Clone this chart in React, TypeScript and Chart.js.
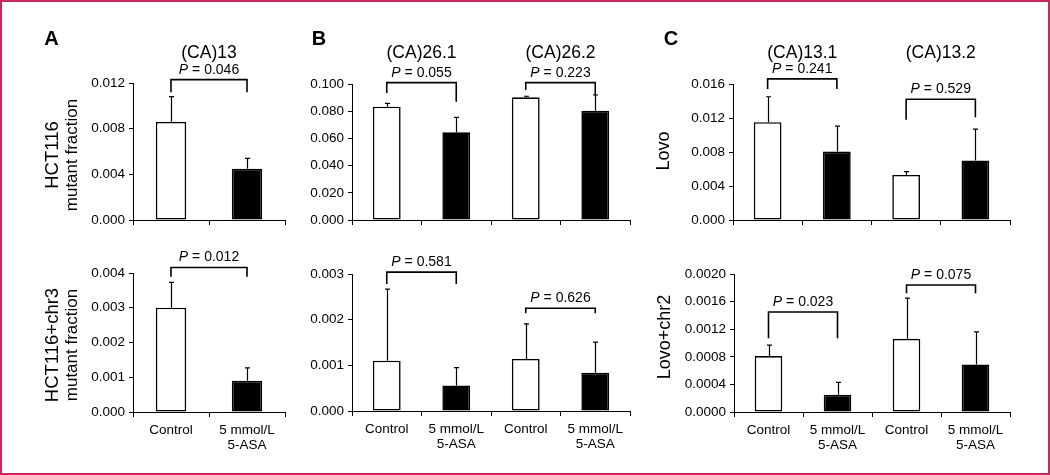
import React, { useEffect, useRef } from "react";
import { Chart, registerables } from "chart.js";

Chart.register(...registerables);

const FONT = '"Liberation Sans", Arial, Helvetica, sans-serif';

// ---------- data ----------
const twoLabels: (string | string[])[] = ["Control", ["5 mmol/L", "5-ASA"]];
const fourLabels: (string | string[])[] = ["Control", ["5 mmol/L", "5-ASA"], "Control", ["5 mmol/L", "5-ASA"]];

const aTopMeans = [0.0086, 0.0045];
const aTopSD = [0.0022, 0.0009];
const aBotMeans = [0.003, 0.0009];
const aBotSD = [0.00073, 0.00037];

const bTopMeans = [0.0833, 0.0645, 0.0902, 0.0804];
const bTopSD = [0.0025, 0.011, 0.0008, 0.0115];
const bBotMeans = [0.0011, 0.00056, 0.00114, 0.00084];
const bBotSD = [0.00157, 0.00039, 0.00077, 0.00067];

const cTopMeans = [0.0115, 0.00805, 0.0053, 0.007];
const cTopSD = [0.003, 0.003, 0.0004, 0.0037];
const cBotMeans = [0.00081, 0.00025, 0.00106, 0.00069];
const cBotSD = [0.00016, 0.00018, 0.00059, 0.00047];

const aTopBrackets = [{ from: 0, to: 1, y: 0.0123, l: 0.0112, r: 0.0112, p: "0.046" }];
const aBotBrackets = [{ from: 0, to: 1, y: 0.00416, l: 0.00389, r: 0.00389, p: "0.012" }];
const bTopBrackets = [
  { from: 0, to: 1, y: 0.101, l: 0.0934, r: 0.087, p: "0.055" },
  { from: 2, to: 3, y: 0.101, l: 0.0956, r: 0.0919, p: "0.223" },
];
const bBotBrackets = [
  { from: 0, to: 1, y: 0.00304, l: 0.00278, r: 0.00278, p: "0.581" },
  { from: 2, to: 3, y: 0.00225, l: 0.00214, r: 0.00214, p: "0.626" },
];
const cTopBrackets = [
  { from: 0, to: 1, y: 0.0166, l: 0.0154, r: 0.0154, p: "0.241" },
  { from: 2, to: 3, y: 0.0142, l: 0.0118, r: 0.0121, p: "0.529" },
];
const cBotBrackets = [
  { from: 0, to: 1, y: 0.00145, l: 0.00107, r: 0.00107, p: "0.023" },
  { from: 2, to: 3, y: 0.00184, l: 0.00172, r: 0.00172, p: "0.075" },
];

const aTitles = ["(CA)13"];
const bTitles = ["(CA)26.1", "(CA)26.2"];
const cTitles = ["(CA)13.1", "(CA)13.2"];

const aTopYLabel = ["HCT116", "mutant fraction"];
const aBotYLabel = ["HCT116+chr3", "mutant fraction"];
const cTopYLabel = ["Lovo"];
const cBotYLabel = ["Lovo+chr2"];

const barColors4 = ["#ffffff", "#000000", "#ffffff", "#000000"];

// ---------- layout ----------
type Bracket = { from: number; to: number; y: number; l: number; r: number; p: string };
type PanelCfg = {
  labels: (string | string[])[];
  showLabels: boolean;
  means: number[];
  sd: number[];
  max: number;
  step: number;
  dec: number;
  brackets: Bracket[];
  titles?: string[];
  yLabel?: string[];
  yLabelX?: number[];
  yLabelSize?: number[];
  yLabelCY?: number;
  letter?: string;
  letterX?: number;
  area: { l: number; r: number; t: number; b: number };
};

const W = 1050;
const H = 475;

function makePlugin(cfg: PanelCfg) {
  return {
    id: "deco",
    afterDatasetsDraw(chart: any) {
      const ctx = chart.ctx as CanvasRenderingContext2D;
      const xs = chart.scales.x;
      const ys = chart.scales.y;
      const meta = chart.getDatasetMeta(0);
      ctx.save();
      ctx.strokeStyle = "#000";
      ctx.fillStyle = "#000";
      // error bars
      ctx.lineWidth = 1.2;
      cfg.means.forEach((m, i) => {
        const bar = meta.data[i];
        const x = Math.round(bar.x) + 0.5;
        const y0 = ys.getPixelForValue(m);
        const y1 = ys.getPixelForValue(m + cfg.sd[i]);
        ctx.beginPath();
        ctx.moveTo(x, y0);
        ctx.lineTo(x, y1);
        ctx.moveTo(x - 2.5, y1);
        ctx.lineTo(x + 2.5, y1);
        ctx.stroke();
      });
      // brackets
      cfg.brackets.forEach((b) => {
        const x0 = xs.getPixelForValue(b.from);
        const x1 = xs.getPixelForValue(b.to);
        const y = ys.getPixelForValue(b.y);
        const yl = ys.getPixelForValue(b.l);
        const yr = ys.getPixelForValue(b.r);
        ctx.lineWidth = 1.6;
        ctx.beginPath();
        ctx.moveTo(x0, yl);
        ctx.lineTo(x0, y);
        ctx.lineTo(x1, y);
        ctx.lineTo(x1, yr);
        ctx.stroke();
        // P text
        const cx = (x0 + x1) / 2;
        ctx.textBaseline = "alphabetic";
        ctx.textAlign = "left";
        ctx.font = `italic 14px ${FONT}`;
        const pw = ctx.measureText("P").width;
        ctx.font = `14px ${FONT}`;
        const rest = " = " + b.p;
        const rw = ctx.measureText(rest).width;
        const sx = cx - (pw + rw) / 2;
        ctx.font = `italic 14px ${FONT}`;
        ctx.fillText("P", sx, y - 6);
        ctx.font = `14px ${FONT}`;
        ctx.fillText(rest, sx + pw, y - 6);
      });
      ctx.restore();
    },
    afterDraw(chart: any) {
      const ctx = chart.ctx as CanvasRenderingContext2D;
      const xs = chart.scales.x;
      ctx.save();
      ctx.fillStyle = "#000";
      // column titles
      if (cfg.titles) {
        ctx.font = `17.5px ${FONT}`;
        ctx.textAlign = "center";
        ctx.textBaseline = "alphabetic";
        cfg.titles.forEach((t, k) => {
          const cx = (xs.getPixelForValue(2 * k) + xs.getPixelForValue(2 * k + 1)) / 2;
          ctx.fillText(t, cx, 57.5);
        });
      }
      // panel letter
      if (cfg.letter) {
        ctx.font = `bold 20px ${FONT}`;
        ctx.textAlign = "center";
        ctx.textBaseline = "alphabetic";
        ctx.fillText(cfg.letter, cfg.letterX as number, 44.5);
      }
      // y axis label
      if (cfg.yLabel) {
        cfg.yLabel.forEach((line, k) => {
          ctx.save();
          ctx.translate((cfg.yLabelX as number[])[k], cfg.yLabelCY as number);
          ctx.rotate(-Math.PI / 2);
          ctx.font = `${(cfg.yLabelSize as number[])[k]}px ${FONT}`;
          ctx.textAlign = "center";
          ctx.textBaseline = "middle";
          ctx.fillText(line, 0, 0);
          ctx.restore();
        });
      }
      ctx.restore();
    },
  };
}

function Panel({ cfg }: { cfg: PanelCfg }) {
  const ref = useRef<HTMLCanvasElement>(null);
  useEffect(() => {
    const canvas = ref.current;
    if (!canvas) return;
    const yW = 60;
    const xH = cfg.showLabels ? 50 : 10;
    const chart = new Chart(canvas, {
      type: "bar",
      data: {
        labels: cfg.labels as any,
        datasets: [
          {
            data: cfg.means,
            backgroundColor: barColors4.slice(0, cfg.means.length),
            borderColor: "#000",
            borderWidth: 1.6,
            borderSkipped: false,
            barPercentage: 0.4,
            categoryPercentage: 1,
          } as any,
        ],
      },
      options: {
        responsive: false,
        animation: false,
        events: [],
        layout: {
          padding: {
            left: cfg.area.l - yW,
            right: W - cfg.area.r,
            top: cfg.area.t,
            bottom: H - cfg.area.b - xH,
          },
        },
        plugins: {
          legend: { display: false },
          tooltip: { enabled: false },
          title: { display: false },
        },
        scales: {
          x: {
            offset: true,
            grid: {
              display: true,
              offset: true,
              drawOnChartArea: false,
              drawTicks: true,
              tickLength: 5,
              color: "#000",
              lineWidth: 1,
            },
            border: { display: true, color: "#000", width: 1 },
            ticks: {
              display: cfg.showLabels,
              color: "#000",
              font: { family: FONT, size: 13.5, lineHeight: 1.11 },
              padding: 6,
              maxRotation: 0,
              autoSkip: false,
            },
            afterFit: (s: any) => {
              s.height = xH;
            },
          },
          y: {
            min: 0,
            max: cfg.max,
            grid: {
              display: true,
              drawOnChartArea: false,
              drawTicks: true,
              tickLength: 4,
              color: "#000",
              lineWidth: 1,
            },
            border: { display: true, color: "#000", width: 1 },
            ticks: {
              stepSize: cfg.step,
              color: "#000",
              font: { family: FONT, size: 13.5 },
              padding: 4,
              callback: (v: any) => Number(v).toFixed(cfg.dec),
            },
            afterFit: (s: any) => {
              s.width = yW;
            },
          },
        },
      } as any,
      plugins: [makePlugin(cfg) as any],
    });
    return () => chart.destroy();
  }, [cfg]);
  return (
    <canvas
      ref={ref}
      width={W}
      height={H}
      style={{ position: "absolute", left: 0, top: 0, width: W, height: H }}
    />
  );
}

const panels: PanelCfg[] = [
  {
    labels: twoLabels, showLabels: false, means: aTopMeans, sd: aTopSD, max: 0.012, step: 0.004, dec: 3,
    brackets: aTopBrackets, titles: aTitles, yLabel: aTopYLabel, yLabelX: [53, 72], yLabelSize: [18.5, 17],
    yLabelCY: 155, letter: "A", letterX: 51.5, area: { l: 133, r: 285, t: 83, b: 220 },
  },
  {
    labels: twoLabels, showLabels: true, means: aBotMeans, sd: aBotSD, max: 0.004, step: 0.001, dec: 3,
    brackets: aBotBrackets, yLabel: aBotYLabel, yLabelX: [53, 72], yLabelSize: [18.5, 17],
    yLabelCY: 345, area: { l: 133, r: 285, t: 273, b: 412 },
  },
  {
    labels: fourLabels, showLabels: false, means: bTopMeans, sd: bTopSD, max: 0.1, step: 0.02, dec: 3,
    brackets: bTopBrackets, titles: bTitles, letter: "B", letterX: 319, area: { l: 352, r: 630, t: 84, b: 220 },
  },
  {
    labels: fourLabels, showLabels: true, means: bBotMeans, sd: bBotSD, max: 0.003, step: 0.001, dec: 3,
    brackets: bBotBrackets, area: { l: 352, r: 630, t: 274, b: 411 },
  },
  {
    labels: fourLabels, showLabels: false, means: cTopMeans, sd: cTopSD, max: 0.016, step: 0.004, dec: 3,
    brackets: cTopBrackets, titles: cTitles, yLabel: cTopYLabel, yLabelX: [664], yLabelSize: [18],
    yLabelCY: 151, letter: "C", letterX: 671, area: { l: 733, r: 1010, t: 84, b: 220 },
  },
  {
    labels: fourLabels, showLabels: true, means: cBotMeans, sd: cBotSD, max: 0.002, step: 0.0004, dec: 4,
    brackets: cBotBrackets, yLabel: cBotYLabel, yLabelX: [665], yLabelSize: [18],
    yLabelCY: 337, area: { l: 734, r: 1010, t: 274, b: 412 },
  },
];

export default function App() {
  return (
    <div
      style={{
        position: "absolute",
        left: 0,
        top: 0,
        width: W,
        height: H,
        background: "#fff",
        overflow: "hidden",
      }}
    >
      {panels.map((p, i) => (
        <Panel key={i} cfg={p} />
      ))}
      <div
        style={{
          position: "absolute",
          left: 0,
          top: 0,
          width: W,
          height: H,
          boxSizing: "border-box",
          border: "2px solid #c8285c",
          pointerEvents: "none",
        }}
      />
    </div>
  );
}
